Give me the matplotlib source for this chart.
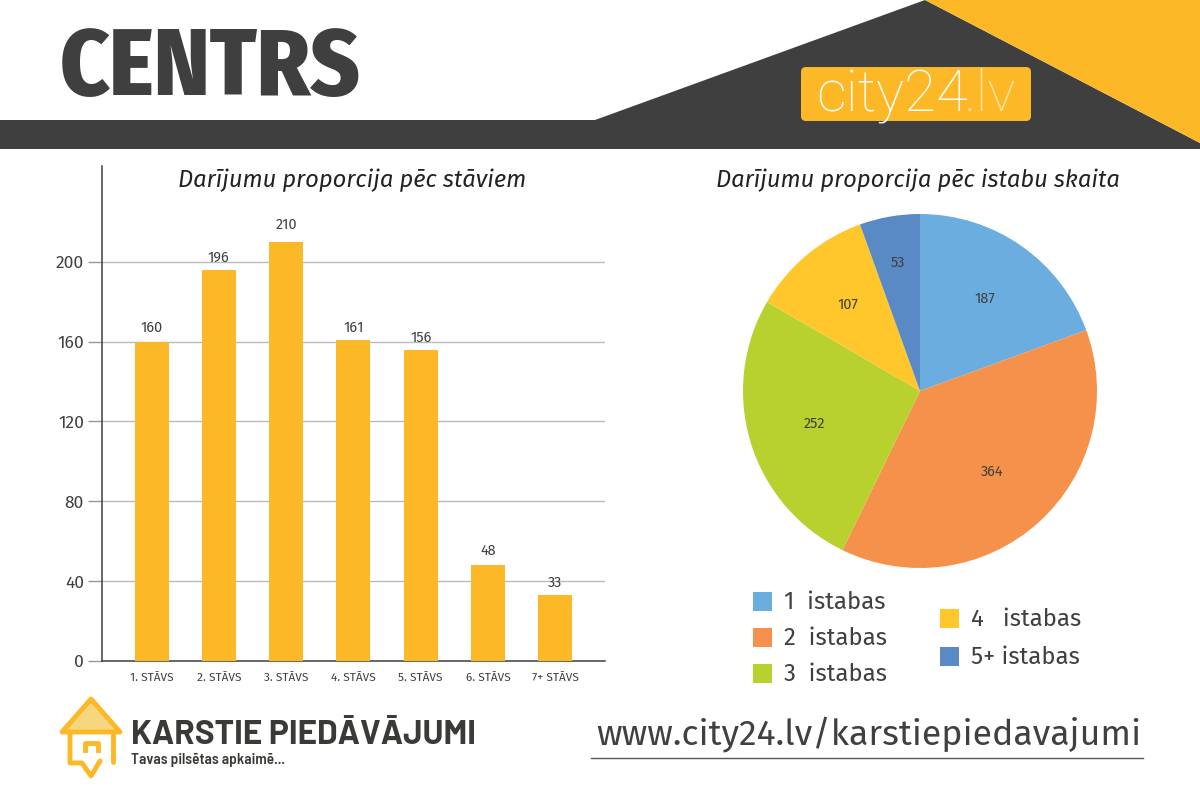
import matplotlib
matplotlib.use("Agg")
import matplotlib.pyplot as plt
from matplotlib.patches import FancyBboxPatch, Polygon, Rectangle

floors = ["1. STĀVS", "2. STĀVS", "3. STĀVS", "4. STĀVS", "5. STĀVS", "6. STĀVS", "7+ STĀVS"]
floor_deals = [160, 196, 210, 161, 156, 48, 33]
floor_label_pad = [5, 3.8, 7, 3.6, 3.6, 5, 4]
y_ticks = [0, 40, 80, 120, 160, 200]

room_labels = ["1  istabas", "2  istabas", "3  istabas", "4   istabas", "5+ istabas"]
room_deals = [187, 364, 252, 107, 53]
room_colors = ["#6CADDF", "#F5914A", "#B9D12F", "#FFC72C", "#5A8AC6"]
room_label_shift = [1, 0.95, 0.975, 1, 1.16]

DARK = "#3F3F3F"
TEXT = "#404040"
ORANGE = "#FDB827"

MAIN_FONT = ["Fira Sans", "Noto Sans", "DejaVu Sans"]
HEAD_FONT = ["Fira Sans Condensed", "Liberation Sans", "DejaVu Sans"]
LOGO_FONT = ["Barlow", "Open Sans", "DejaVu Sans"]
TAG_FONT = ["Barlow Semi Condensed", "Open Sans", "DejaVu Sans"]
CITY_FONT = ["Roboto", "Liberation Sans", "DejaVu Sans"]

plt.rcParams["font.family"] = MAIN_FONT

fig = plt.figure(figsize=(12, 8), dpi=100, facecolor="white")

# overlay in pixel coordinates for header and footer
bg = fig.add_axes([0, 0, 1, 1])
bg.set_xlim(0, 1200)
bg.set_ylim(800, 0)
bg.axis("off")

bg.add_patch(Polygon([(0, 120), (595, 120), (925, 0), (1200, 143), (1200, 149), (0, 149)],
                     closed=True, facecolor=DARK, edgecolor="none"))
bg.add_patch(Polygon([(925, 0), (1200, 0), (1200, 143)],
                     closed=True, facecolor=ORANGE, edgecolor="none"))
bg.add_patch(FancyBboxPatch((804, 70), 224, 48, boxstyle="round,pad=3,rounding_size=5",
                            facecolor=ORANGE, edgecolor="none"))

bg.text(60, 95, "CENTRS", family=HEAD_FONT, fontweight=800,
        fontsize=68, color=DARK, ha="left", va="baseline")
bg.text(816, 111, "city24", family=CITY_FONT, fontweight="light",
        fontsize=42, color="white", ha="left", va="baseline")
bg.text(964, 111, ".lv", family=CITY_FONT, fontweight="light",
        fontsize=42, color="#FFE3A0", ha="left", va="baseline")

bg.text(352, 180, "Darījumu proporcija pēc stāviem", fontsize=17.1, style="italic",
        color="#222222", ha="center", va="center")
bg.text(918, 180, "Darījumu proporcija pēc istabu skaita", fontsize=17.1, style="italic",
        color="#222222", ha="center", va="center")

# bar chart
ax = fig.add_axes([102 / 1200, 139 / 800, 503 / 1200, 495 / 800], facecolor="none")
x = list(range(len(floors)))
ax.bar(x, floor_deals, width=0.505, color=ORANGE, zorder=3)
for xi, v, pad in zip(x, floor_deals, floor_label_pad):
    ax.annotate(str(v), (xi, v), xytext=(0, pad), textcoords="offset points",
                ha="center", va="bottom", fontsize=10.4, color=TEXT, zorder=4)
ax.set_xlim(-0.736, 6.74)
ax.set_ylim(0, 248)
ax.set_xticks(x, floors)
ax.set_yticks(y_ticks)
ax.tick_params(axis="x", length=0, pad=8, labelsize=8.5, labelcolor=TEXT)
ax.tick_params(axis="y", length=10, pad=3, width=1, color="#999999", labelsize=12.5, labelcolor=TEXT)
ax.grid(axis="y", color="#BBBBBB", linewidth=1, zorder=0)
ax.spines["top"].set_visible(False)
ax.spines["right"].set_visible(False)
ax.spines["left"].set_color(DARK)
ax.spines["bottom"].set_color(DARK)
ax.spines["left"].set_linewidth(1.1)
ax.spines["bottom"].set_linewidth(1.1)

# pie chart
pie_ax = fig.add_axes([743 / 1200, 232 / 800, 354 / 1200, 354 / 800])
total = sum(room_deals)
wedges, texts, autotexts = pie_ax.pie(room_deals, colors=room_colors, startangle=90, counterclock=False,
                                      autopct=lambda p: f"{round(p * total / 100)}", pctdistance=0.64,
                                      textprops={"fontsize": 10.4, "color": TEXT})
for t, k in zip(autotexts, room_label_shift):
    px, py = t.get_position()
    t.set_position((px * k, py * k - 0.005))
pie_ax.set_xlim(-1, 1)
pie_ax.set_ylim(-1, 1)

# legend, two columns
legend_pos = [(753, 601), (753, 637), (753, 673), (940, 618), (940, 656)]
for (lx, ly), label, c in zip(legend_pos, room_labels, room_colors):
    bg.add_patch(Rectangle((lx, ly - 9), 19, 19, facecolor=c, edgecolor="none"))
    bg.text(lx + 31, ly + 1, label, fontsize=17.2, color=TEXT, ha="left", va="center")

# footer logo
roof = Polygon([(91, 699), (62, 732), (120, 732)], closed=True, facecolor="#F6D77F",
               edgecolor=ORANGE, linewidth=3.5, joinstyle="round")
bg.add_patch(roof)
bg.plot([70, 70, 82, 91, 100], [732, 763, 763, 776, 761], color=ORANGE, linewidth=3.5,
        solid_capstyle="round", solid_joinstyle="round")
bg.plot([113, 113], [732, 762], color=ORANGE, linewidth=3.5, solid_capstyle="round")
bg.plot([85, 85, 98, 98], [750, 743, 743, 750], color=ORANGE, linewidth=3.5)

bg.text(131, 744, "KARSTIE PIEDĀVĀJUMI", family=LOGO_FONT, fontweight=700,
        fontsize=24, color="#3A3A36", ha="left", va="baseline")
bg.text(131, 764, "Tavas pilsētas apkaimē...", family=TAG_FONT, fontweight=600,
        fontsize=11, color="#3A3A36", ha="left", va="baseline")

bg.text(596, 744, "www.city24.lv/karstiepiedavajumi", fontsize=25.7, color=TEXT,
        ha="left", va="baseline")
bg.plot([591, 1143], [758, 758], color="#555555", linewidth=1)

fig.savefig("out.png", dpi=100)
